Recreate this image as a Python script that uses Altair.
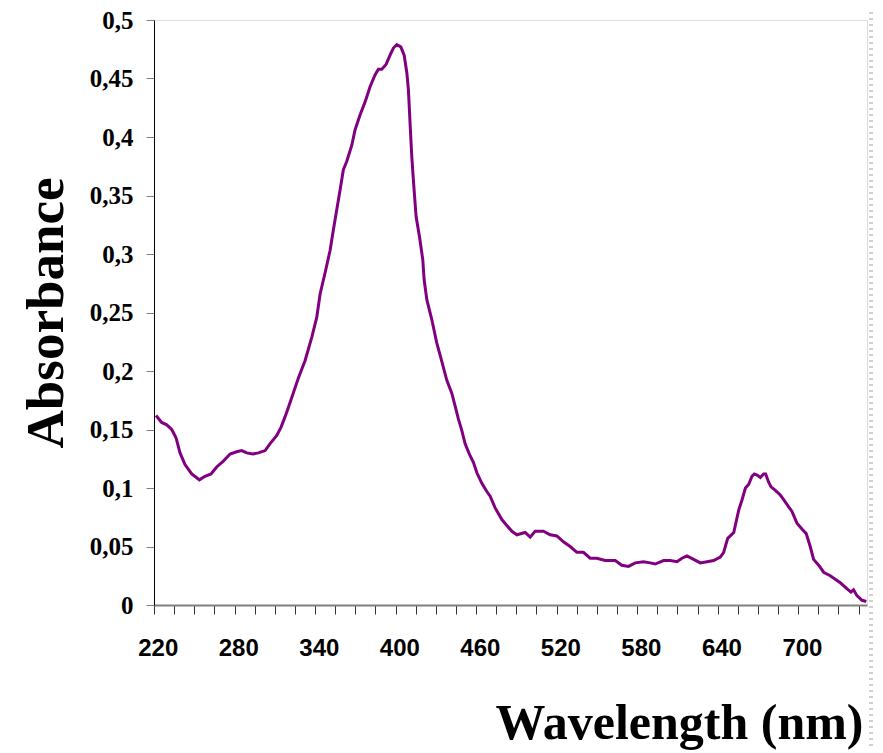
import altair as alt
import pandas as pd

# Wavelength (nm) and absorbance
wavelength = [
    218.7, 222.9, 226.7, 230.4, 233.6, 236.6, 240.3, 245.3, 251.0, 255.2,
    259.7, 263.9, 268.9, 273.9, 278.8, 282.6, 286.3, 290.8, 295.0, 300.0,
    303.7, 308.7, 311.9, 314.9, 318.6, 324.8, 329.8, 334.8, 338.5, 341.0,
    344.7, 348.4, 350.9, 353.4, 355.9, 358.3, 360.8, 364.6, 367.0, 370.8,
    374.5, 378.2, 381.9, 384.4, 386.9, 390.1, 393.1, 395.6, 398.1, 401.1,
    403.6, 405.6, 406.8, 408.0, 409.3, 410.5, 412.5, 415.0, 417.5, 418.5,
    420.5, 424.2, 427.9, 431.7, 435.4, 439.1, 441.6, 444.0, 446.6, 449.0,
    452.2, 455.2, 457.8, 461.5, 465.2, 467.7, 471.4, 476.4, 480.1, 483.9,
    487.6, 493.8, 497.5, 501.2, 507.4, 512.4, 517.4, 522.3, 527.3, 532.3,
    537.2, 542.2, 547.2, 553.4, 560.9, 565.8, 570.8, 575.8, 582.0, 587.0,
    590.7, 596.9, 601.9, 606.9, 610.6, 614.4, 619.3, 624.3, 629.3, 634.2,
    639.2, 641.7, 644.7, 649.2, 652.9, 655.4, 657.9, 660.3, 662.8, 664.5,
    666.6, 669.0, 671.5, 673.0, 675.2, 677.0, 680.2, 683.9, 686.4, 690.0,
    692.6, 696.3, 700.0, 703.2, 706.2, 708.7, 712.5, 716.2, 721.1, 728.6,
    733.5, 736.5, 738.5, 741.0, 744.8, 748.0,
]
absorbance = [
    0.162, 0.156, 0.154, 0.150, 0.143, 0.130, 0.120, 0.112, 0.107, 0.110,
    0.112, 0.118, 0.123, 0.129, 0.131, 0.132, 0.130, 0.129, 0.130, 0.132,
    0.138, 0.145, 0.152, 0.161, 0.173, 0.194, 0.209, 0.229, 0.246, 0.266,
    0.284, 0.303, 0.321, 0.338, 0.355, 0.372, 0.379, 0.393, 0.406, 0.419,
    0.430, 0.443, 0.453, 0.458, 0.458, 0.462, 0.470, 0.476, 0.479, 0.477,
    0.470, 0.455, 0.440, 0.412, 0.383, 0.363, 0.332, 0.315, 0.295, 0.278,
    0.261, 0.244, 0.224, 0.208, 0.192, 0.181, 0.170, 0.159, 0.149, 0.138,
    0.129, 0.122, 0.113, 0.104, 0.097, 0.093, 0.083, 0.073, 0.068, 0.063,
    0.060, 0.062, 0.058, 0.063, 0.063, 0.060, 0.059, 0.054, 0.050, 0.045,
    0.045, 0.040, 0.040, 0.038, 0.038, 0.034, 0.033, 0.036, 0.037, 0.036,
    0.035, 0.038, 0.038, 0.037, 0.040, 0.042, 0.039, 0.036, 0.037, 0.038,
    0.041, 0.045, 0.057, 0.062, 0.081, 0.090, 0.100, 0.103, 0.110, 0.112,
    0.111, 0.109, 0.112, 0.112, 0.105, 0.101, 0.098, 0.094, 0.090, 0.084,
    0.080, 0.070, 0.065, 0.061, 0.050, 0.039, 0.034, 0.028, 0.025, 0.019,
    0.014, 0.011, 0.013, 0.008, 0.004, 0.003,
]

x_labels = [220, 280, 340, 400, 460, 520, 580, 640, 700]
y_ticks = [0, 0.05, 0.1, 0.15, 0.2, 0.25, 0.3, 0.35, 0.4, 0.45, 0.5]

x_start, x_end = 217.2, 748.5
minor_ticks = [round(x_start + 15 * k, 2) for k in range(36)]

df = pd.DataFrame({"wl": wavelength, "abs": absorbance})

W, H = 713, 585
serif = "Liberation Serif, Times New Roman, serif"
sans = "Liberation Sans, Arial, sans-serif"

xscale = alt.Scale(domain=[x_start, x_end], nice=False, zero=False)
yscale = alt.Scale(domain=[0, 0.5], nice=False)

y_axis = alt.Axis(
    values=y_ticks,
    labelExpr="replace(format(datum.value, '.2~f'), '.', ',')",
    labelFont=serif, labelFontSize=25, labelFontWeight="bold", labelColor="black",
    labelPadding=13, tickSize=8, tickColor="#808080", tickWidth=1,
    domainColor="black", domainWidth=1, grid=False,
    title="Absorbance", titleFont=serif, titleFontSize=53, titleFontWeight="bold",
    titleColor="black", titleAngle=270, titleX=-92, titleY=H / 2,
    titleAlign="center", titleBaseline="alphabetic",
)

line = alt.Chart(df).mark_line(color="#800080", strokeWidth=3).encode(
    x=alt.X("wl:Q", scale=xscale, axis=alt.Axis(
        orient="bottom", values=x_labels, ticks=False, domain=False, grid=False,
        labelFont=sans, labelFontSize=24, labelFontWeight="bold", labelColor="black",
        labelPadding=31, labelFlush=False,
        title="Wavelength (nm)", titleFont=serif, titleFontSize=50,
        titleFontWeight="bold", titleColor="black",
        titleX=W - 4, titleY=133, titleAlign="right", titleBaseline="alphabetic",
    )),
    y=alt.Y("abs:Q", scale=yscale, axis=y_axis),
)

ticks = alt.Chart(df).mark_line(opacity=0).encode(
    x=alt.X("wl:Q", scale=xscale, axis=alt.Axis(
        orient="bottom", values=minor_ticks, labels=False, title=None, grid=False,
        domainColor="#808080", domainWidth=2, tickColor="#333333", tickWidth=1,
        tickSize=9,
    )),
    y=alt.Y("abs:Q", scale=yscale, axis=y_axis),
)

border = alt.Chart(df).mark_rule(color="#d0d0d0", strokeWidth=3, strokeDash=[2, 4]).encode(
    x=alt.value(717), y=alt.value(-20), y2=alt.value(H + 150),
)

chart = alt.layer(ticks, line, border).resolve_axis(x="independent").properties(
    width=W, height=H,
    autosize=alt.AutoSizeParams(type="none"),
    padding={"left": 146, "top": 12, "right": 8, "bottom": 145},
).configure_view(stroke=None).configure(background="white")

chart.save("out.html", embed_options={"renderer": "svg", "actions": False})
